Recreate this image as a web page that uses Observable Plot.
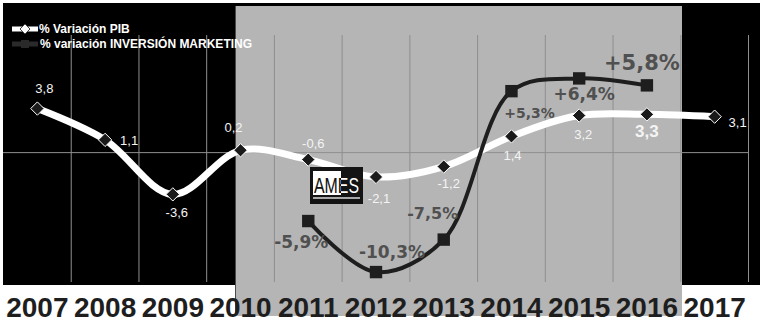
<!DOCTYPE html>
<html><head><meta charset="utf-8">
<script src="https://cdn.jsdelivr.net/npm/d3@7"></script>
<script src="https://cdn.jsdelivr.net/npm/@observablehq/plot@0.6"></script>
<style>
body{margin:0;background:#fff;}
#wrap{position:relative;width:761px;height:332px;overflow:hidden;font-family:"Liberation Sans",Arial,sans-serif;}
.bg-black{position:absolute;left:3px;top:3px;width:757px;height:282px;background:#000;}
.bg-grey{position:absolute;left:235px;top:6px;width:447px;height:310px;background:#b5b5b5;border-left:1px solid #4a4a4a;box-sizing:border-box;}
#chart{position:absolute;left:0;top:0;}
.leg{position:absolute;color:#fff;font:bold 12px "Liberation Sans",Arial,sans-serif;line-height:14px;white-space:nowrap;}
.ov{position:absolute;left:0;top:0;overflow:visible;}
</style>
</head><body>
<div id="wrap">
  <div class="bg-black"></div>
  <div class="bg-grey"></div>
  <div id="chart"></div>
  <svg class="ov" width="60" height="60" style="left:0;top:0">
    <line x1="12" y1="29" x2="38" y2="29" stroke="#fff" stroke-width="5"/>
    <path d="M25,24 L30,29 L25,34 L20,29 Z" fill="#fff" stroke="#444" stroke-width="1"/>
    <line x1="12" y1="44" x2="38" y2="44" stroke="#2a2a2a" stroke-width="5"/>
    <rect x="21" y="40" width="8" height="8" fill="#2a2a2a"/>
  </svg>
  <div class="leg" style="left:39px;top:22px">% Variación PIB</div>
  <div class="leg" style="left:40px;top:37px">% variación INVERSIÓN MARKETING</div>
  <svg class="ov" width="54" height="38" style="left:310px;top:167px">
    <defs>
      <linearGradient id="logoFill" gradientUnits="userSpaceOnUse" x1="0" y1="0" x2="46" y2="0">
        <stop offset="0.587" stop-color="#141414"/>
        <stop offset="0.587" stop-color="#ffffff"/>
      </linearGradient>
    </defs>
    <rect width="53" height="37" fill="#141414"/>
    <rect x="3" y="4" width="28" height="24" fill="#fff"/>
    <g transform="translate(4,26) scale(1,1.4)">
      <text x="0" y="0" font-family="Liberation Sans, Arial" font-size="16" textLength="45" lengthAdjust="spacingAndGlyphs" fill="url(#logoFill)">AMES</text>
    </g>
    <rect x="3" y="30" width="47" height="2" fill="#a8a8a8"/>
  </svg>
</div>
<script>
// ---- data ----
const years = [2007, 2008, 2009, 2010, 2011, 2012, 2013, 2014, 2015, 2016, 2017];
const pibValues = [3.8, 1.1, -3.6, 0.2, -0.6, -2.1, -1.2, 1.4, 3.2, 3.3, 3.1];
const mktYears = [2011, 2012, 2013, 2014, 2015, 2016];
const mktValues = [-5.9, -10.3, -7.5, 5.3, 6.4, 5.8];

// ---- label placement (styling only) ----
const pibLabelOffsets = [[7,-20],[24,1],[4,18],[-7,-22],[5,-16],[3,22],[5,17],[1,19],[4,19],[0,17],[23,6]];
const pibLabelSizes   = [13,13,13,13,13,13,13,13,13,17,13];
const pibLabelWeights = ["normal","normal","normal","normal","normal","normal","normal","normal","normal","bold","normal"];
const mktLabelOffsets = [[-7,22],[16,-20],[-11,-26],[18,22],[5,16],[-5,-22]];
const mktLabelSizes   = [17,17,16,14,17,21];

const pib = years.map((year, i) => ({year, value: pibValues[i]}));
const mkt = mktYears.map((year, i) => ({year, value: mktValues[i]}));

const fmtPib = v => String(v).replace(".", ",");
const fmtMkt = v => (v > 0 ? "+" : "") + String(v).replace(".", ",") + "%";

const pibLabels = pib.map((d, i) => Plot.text([d], {
  x: "year", y: "value", text: d => fmtPib(d.value),
  dx: pibLabelOffsets[i][0], dy: pibLabelOffsets[i][1],
  fontSize: pibLabelSizes[i], fontWeight: pibLabelWeights[i],
  fontFamily: "Liberation Sans, Arial, sans-serif", fill: "#f4f4f4"
}));
const mktLabels = mkt.map((d, i) => Plot.text([d], {
  x: "year", y: "value", text: d => fmtMkt(d.value),
  dx: mktLabelOffsets[i][0], dy: mktLabelOffsets[i][1],
  fontSize: mktLabelSizes[i], fontWeight: "bold",
  fontFamily: "DejaVu Sans, Verdana, sans-serif", fill: "#505050"
}));

const chart = Plot.plot({
  width: 761, height: 332,
  marginLeft: 3, marginRight: 13, marginTop: 35, marginBottom: 50,
  style: {background: "transparent", fontFamily: "Liberation Sans, Arial, sans-serif", overflow: "visible"},
  x: {type: "linear", domain: [years[0] - 0.5, years[years.length - 1] + 0.5]},
  y: {domain: [-11.2, 10.1], axis: null},
  marks: [
    Plot.ruleX(years.map(y => y + 0.5), {stroke: "#8f8f8f", strokeWidth: 1}),
    Plot.ruleY([0], {stroke: "#8f8f8f", strokeWidth: 1}),
    Plot.line(pib, {x: "year", y: "value", curve: "catmull-rom", stroke: "#ffffff", strokeWidth: 7}),
    Plot.dot(pib, {x: "year", y: "value", symbol: "diamond2", r: 6, fill: "#1a1a1a", stroke: "#ffffff", strokeWidth: 1}),
    Plot.line(mkt, {x: "year", y: "value", curve: "catmull-rom", stroke: "#1e1e1e", strokeWidth: 4}),
    Plot.dot(mkt, {x: "year", y: "value", symbol: "square", r: 7, fill: "#1e1e1e", stroke: "none"}),
    ...pibLabels,
    ...mktLabels,
    Plot.axisX({ticks: years, tickSize: 0, tickPadding: 15, fontSize: 28, fontWeight: "bold",
      color: "#1e1e1e", tickFormat: d => String(d), label: null})
  ]
});
document.getElementById("chart").appendChild(chart);
</script>
</body></html>
